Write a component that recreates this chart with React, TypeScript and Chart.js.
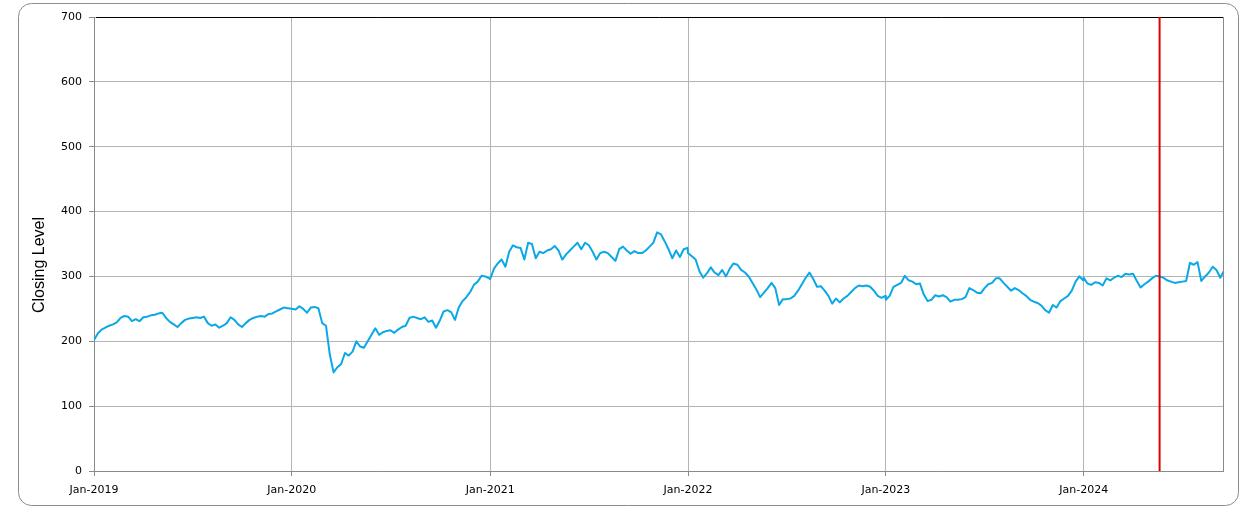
import React, { useEffect, useRef } from "react";
import { Chart, registerables } from "chart.js";

Chart.register(...registerables);

// Weekly closing levels (one value per week, starting each January 1)
const close2019 = [202, 212, 218, 221, 224, 226, 229, 236, 239, 238, 231, 234, 231, 237, 238, 240, 241, 243, 244, 236, 230, 226, 222, 228, 233, 235, 236, 237, 236, 238, 228, 224, 226, 221, 224, 228, 237, 233, 226, 222, 228, 233, 236, 238, 239, 238, 242, 243, 246, 249, 252, 251];
const close2020 = [250, 249, 254, 250, 244, 252, 253, 251, 228, 224, 180, 152, 160, 165, 182, 178, 184, 200, 192, 190, 200, 210, 220, 210, 214, 216, 217, 213, 218, 222, 224, 236, 238, 236, 234, 237, 230, 232, 221, 232, 246, 248, 245, 233, 252, 262, 268, 276, 287, 292, 301, 300, 297];
const close2021 = [296, 312, 320, 326, 315, 338, 348, 345, 344, 326, 352, 350, 328, 338, 336, 340, 342, 347, 340, 326, 334, 340, 346, 352, 342, 352, 348, 338, 326, 336, 338, 336, 330, 324, 342, 346, 340, 335, 339, 336, 336, 340, 346, 352, 368, 365, 354, 342, 328, 340, 330, 342, 344];
const close2022 = [336, 331, 326, 308, 298, 305, 314, 306, 302, 310, 300, 312, 320, 318, 310, 306, 300, 290, 280, 268, 275, 282, 290, 282, 256, 265, 265, 266, 270, 278, 288, 298, 306, 296, 284, 285, 278, 270, 258, 266, 260, 266, 270, 276, 282, 286, 285, 286, 284, 278, 270, 267, 270];
const close2023 = [264, 270, 284, 287, 290, 301, 294, 292, 288, 289, 272, 262, 264, 271, 269, 271, 268, 261, 264, 264, 265, 268, 282, 279, 275, 274, 282, 288, 290, 297, 297, 290, 284, 278, 282, 279, 274, 270, 264, 261, 259, 255, 248, 244, 256, 252, 262, 266, 270, 278, 292, 300, 294];
const close2024 = [298, 289, 287, 291, 290, 286, 297, 294, 298, 301, 299, 304, 303, 304, 293, 283, 288, 292, 297, 301, 300, 298, 294, 292, 290, 291, 292, 293, 321, 318, 322, 293, 300, 306, 315, 310, 298, 309];

// Day offsets (from 1 Jan 2019) of each year's first day, and axis tick labels
const yearStartDays = [0, 365, 731, 1096, 1461, 1826];
const yearTickLabels = ["Jan-2019", "Jan-2020", "Jan-2021", "Jan-2022", "Jan-2023", "Jan-2024"];
const yearSeries = [close2019, close2020, close2021, close2022, close2023, close2024];

const lastDay = 2083; // ~12 Sep 2024
const markerDay = 1966; // 20 May 2024 (red vertical line)

const yTicks = [0, 100, 200, 300, 400, 500, 600, 700];

const GRID = "#b4b4b4";
const AXIS = "#8a8a8a";

export default function App() {
  const ref = useRef<HTMLCanvasElement | null>(null);

  useEffect(() => {
    document.body.style.margin = "0";
    const canvas = ref.current;
    if (!canvas) return;

    const points: { x: number; y: number }[] = [];
    yearSeries.forEach((vals, k) => {
      vals.forEach((v, i) => points.push({ x: yearStartDays[k] + 7 * i, y: v }));
    });

    const decor = {
      id: "decor",
      beforeDraw(chart: any) {
        const ctx = chart.ctx;
        ctx.save();
        ctx.fillStyle = "#ffffff";
        ctx.fillRect(0, 0, chart.width, chart.height);
        // outer rounded frame
        const x0 = 18.5, y0 = 3.5, x1 = 1238.5, y1 = 505.5, r = 13;
        ctx.beginPath();
        ctx.moveTo(x0 + r, y0);
        ctx.lineTo(x1 - r, y0);
        ctx.arcTo(x1, y0, x1, y0 + r, r);
        ctx.lineTo(x1, y1 - r);
        ctx.arcTo(x1, y1, x1 - r, y1, r);
        ctx.lineTo(x0 + r, y1);
        ctx.arcTo(x0, y1, x0, y1 - r, r);
        ctx.lineTo(x0, y0 + r);
        ctx.arcTo(x0, y0, x0 + r, y0, r);
        ctx.closePath();
        ctx.strokeStyle = "#8c8c8c";
        ctx.lineWidth = 1;
        ctx.stroke();
        // y-axis title
        ctx.translate(40, 265);
        ctx.rotate(-Math.PI / 2);
        ctx.fillStyle = "#000";
        ctx.font = "16px 'Liberation Sans', Arial, sans-serif";
        ctx.textAlign = "center";
        ctx.textBaseline = "middle";
        ctx.fillText("Closing Level", 0, 0);
        ctx.restore();
      },
      afterDatasetsDraw(chart: any) {
        const ctx = chart.ctx;
        const { left, right, top, bottom } = chart.chartArea;
        const xs = chart.scales.x;
        ctx.save();
        // right border
        ctx.strokeStyle = AXIS;
        ctx.lineWidth = 1;
        ctx.beginPath();
        ctx.moveTo(Math.round(right) + 0.5, top);
        ctx.lineTo(Math.round(right) + 0.5, bottom);
        ctx.stroke();
        // top border in black
        ctx.strokeStyle = "#000";
        ctx.beginPath();
        ctx.moveTo(left + 2, Math.round(top) + 0.5);
        ctx.lineTo(right, Math.round(top) + 0.5);
        ctx.stroke();
        // red marker
        const mx = xs.getPixelForValue(markerDay);
        ctx.strokeStyle = "#e00000";
        ctx.lineWidth = 2;
        ctx.beginPath();
        ctx.moveTo(mx, top);
        ctx.lineTo(mx, bottom);
        ctx.stroke();
        ctx.restore();
      },
    };

    const tickFont = { family: "'DejaVu Sans', Verdana, sans-serif", size: 11 };

    const chart = new Chart(canvas, {
      type: "line",
      data: {
        datasets: [
          {
            data: points,
            borderColor: "#0aa8e6",
            borderWidth: 2,
            pointRadius: 0,
            tension: 0,
            borderJoinStyle: "round",
            fill: false,
          },
        ],
      },
      options: {
        responsive: false,
        animation: false,
        devicePixelRatio: 1,
        parsing: false,
        layout: { padding: { left: 20, right: 34, top: 17, bottom: 0 } },
        plugins: { legend: { display: false }, tooltip: { enabled: false } },
        scales: {
          x: {
            type: "linear",
            min: 0,
            max: lastDay,
            afterBuildTicks: (scale: any) => {
              scale.ticks = yearStartDays.map((v) => ({ value: v }));
            },
            afterFit: (scale: any) => {
              scale.height = 42;
            },
            ticks: {
              autoSkip: false,
              maxRotation: 0,
              color: "#000",
              font: tickFont,
              padding: 8,
              callback: (v: any) => {
                const i = yearStartDays.indexOf(Number(v));
                return i >= 0 ? yearTickLabels[i] : "";
              },
            },
            grid: { color: GRID, lineWidth: 1, drawTicks: true, tickLength: 5, tickColor: AXIS },
            border: { color: AXIS, width: 1 },
          },
          y: {
            type: "linear",
            min: 0,
            max: 700,
            afterBuildTicks: (scale: any) => {
              scale.ticks = yTicks.map((v) => ({ value: v }));
            },
            afterFit: (scale: any) => {
              scale.width = 74;
            },
            ticks: {
              color: "#000",
              font: tickFont,
              padding: 7,
              callback: (v: any) => String(v),
            },
            grid: { color: GRID, lineWidth: 1, drawTicks: true, tickLength: 5, tickColor: AXIS },
            border: { color: AXIS, width: 1 },
          },
        },
      },
      plugins: [decor],
    } as any);

    return () => chart.destroy();
  }, []);

  return (
    <div style={{ position: "fixed", left: 0, top: 0, width: 1257, height: 513 }}>
      <canvas ref={ref} width={1257} height={513} style={{ display: "block" }} />
    </div>
  );
}
